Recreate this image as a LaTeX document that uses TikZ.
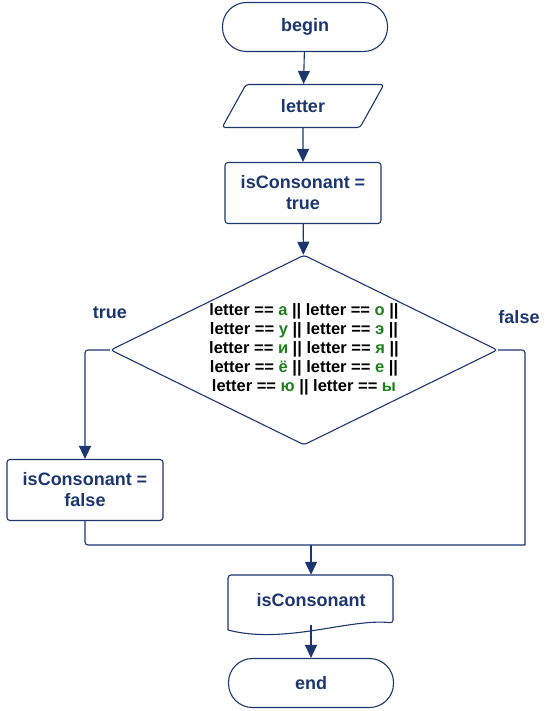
\documentclass[tikz,border=0pt]{standalone}
\usepackage{fontspec}
\setmainfont{Liberation Sans}
\usetikzlibrary{shapes.geometric,arrows.meta,positioning}
\definecolor{flowblue}{RGB}{28,54,112}
\definecolor{lettergreen}{RGB}{30,128,30}
\newcommand{\ltr}[1]{\textcolor{lettergreen}{#1}}

\begin{document}
\begin{tikzpicture}[x=1pt,y=-1pt,
  line/.style={draw=flowblue,line width=1.1pt,rounded corners=3pt},
  arrow/.style={line,-{Triangle[length=13pt,width=12pt]}},
  label/.style={font=\bfseries\fontsize{18}{21}\selectfont,text=flowblue},
  term/.style={line,label,rectangle,rounded corners=24pt,minimum width=165pt,minimum height=49pt},
  io/.style={line,label,trapezium,trapezium left angle=62,trapezium right angle=118,trapezium stretches=true,minimum width=162pt,minimum height=43pt},
  proc/.style={line,label,rectangle,minimum width=156pt,minimum height=61pt,align=center,inner sep=2pt},
  check/.style={line,diamond,aspect=2.04,minimum width=387pt,minimum height=190pt,inner sep=0pt,align=center,font=\bfseries\fontsize{16.5}{19}\selectfont}]
\useasboundingbox (0,0) rectangle (551,711);

% nodes
\node[term] (begin) at (305,27) {begin};
\node[io] (letter) at (303,106) {letter};
\node[proc] (setTrue) at (303,193) {isConsonant =\\true};
\node[check] (test) at (304,350) {\raisebox{-2pt}{\begin{tabular}{@{}c@{}}letter == \ltr{а} || letter == \ltr{о} ||\\
 letter == \ltr{у} || letter == \ltr{э} ||\\
 letter == \ltr{и} || letter == \ltr{я} ||\\
 letter == \ltr{ё} || letter == \ltr{е} ||\\
 letter == \ltr{ю} || letter == \ltr{ы}\end{tabular}}};
\node[proc] (setFalse) at (85,490) {isConsonant =\\false};
\node[label,minimum width=165pt,minimum height=50pt] (result) at (311,600) {isConsonant};
\node[term] (end) at (311,683) {end};

% document shape
\draw[line] (228,630) -- (228,575) -- (393,575) -- (393,623)
  .. controls (350,618) and (285,645) .. (228,630);

% branch labels
\node[label] (yes) at (110,313) {true};
\node[label] (no) at (519,317) {false};

% connectors
\coordinate (joinR) at (525,545);
\coordinate (merge) at (311,545);
\draw[arrow] (begin) -- (letter);
\draw[arrow] (letter) -- (setTrue);
\draw[arrow] (setTrue) -- (test);
\draw[arrow] (test.west) -| (setFalse.north);
\draw[line] (test.east) -| (joinR);
\draw[line] (setFalse.south) |- (joinR);
\draw[arrow] (merge) -- (result.north);
\draw[arrow] (result.south) -- (end);

\end{tikzpicture}
\end{document}
